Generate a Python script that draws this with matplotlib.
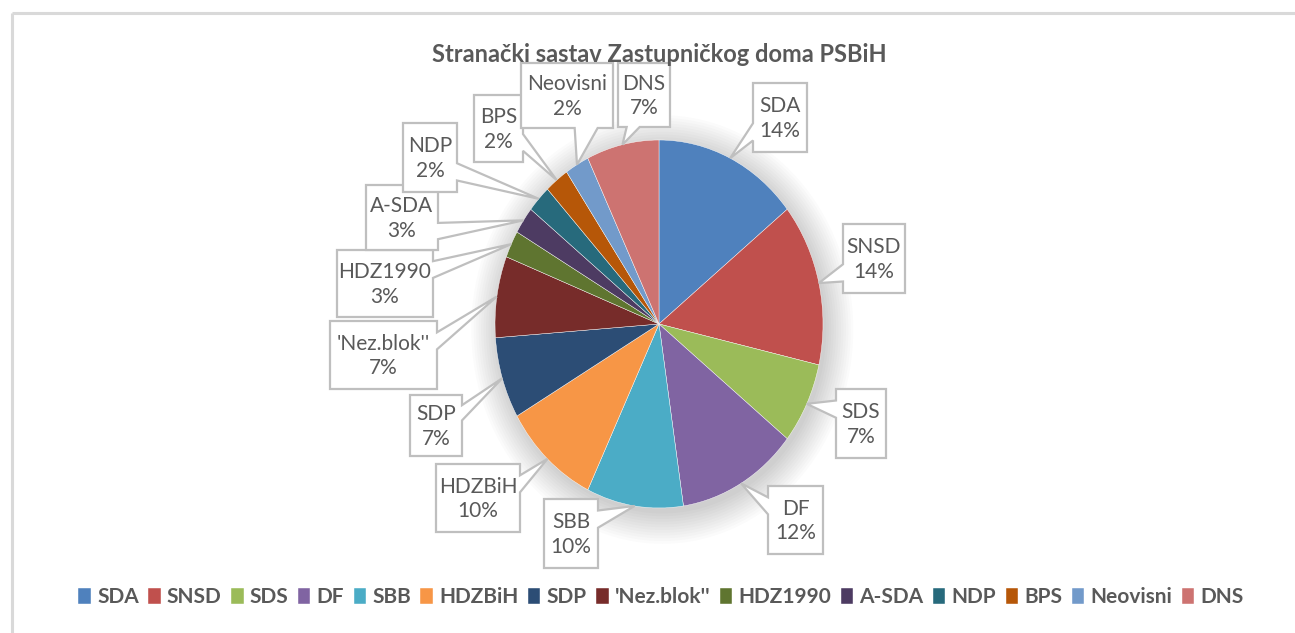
import numpy as np
import matplotlib.pyplot as plt
from matplotlib.patches import Polygon, Ellipse

plt.rcParams['font.family'] = ['Lato', 'DejaVu Sans']

# data
parties = ['SDA', 'SNSD', 'SDS', 'DF', 'SBB', 'HDZBiH', 'SDP', "'Nez.blok''",
           'HDZ1990', 'A-SDA', 'NDP', 'BPS', 'Neovisni', 'DNS']
seats = [6, 6, 3, 5, 4, 4, 3, 3, 1, 1, 1, 1, 1, 3]
pct_labels = ['14%', '14%', '7%', '12%', '10%', '10%', '7%', '7%',
              '3%', '3%', '2%', '2%', '2%', '7%']
colors = ['#4F81BD', '#C0504D', '#9BBB59', '#8064A2', '#4BACC6', '#F79646', '#2C4D75',
          '#772C2A', '#5F7530', '#4D3B62', '#276A7C', '#B65708', '#729ACA', '#CD7371']
title = 'Stranački sastav Zastupničkog doma PSBiH'

# callout boxes, pixel layout (left, top, right, bottom)
boxes = [(753, 83, 807, 152), (843, 224, 905, 293), (836, 389, 886, 458),
         (768, 486, 823, 554), (544, 499, 598, 568), (436, 464, 520, 532),
         (410, 395, 462, 456), (330, 321, 437, 389), (337, 250, 433, 317),
         (366, 185, 438, 250), (403, 123, 457, 192), (474, 95, 523, 162),
         (521, 63, 613, 128), (618, 63, 670, 127)]

W, H = 1295, 633
GREY = '#595959'
EDGE = '#BFBFBF'


def callout(x0, y0, x1, y1, tx, ty):
    # excel-like wedgeRectCallout outline, y axis pointing down
    w, h = x1 - x0, y1 - y0
    dxp, dyp = tx - (x0 + x1) / 2, ty - (y0 + y1) / 2
    xb1 = x0 + w * (7 if dxp > 0 else 2) / 12
    xb2 = x0 + w * (10 if dxp > 0 else 5) / 12
    yb1 = y0 + h * (7 if dyp > 0 else 2) / 12
    yb2 = y0 + h * (10 if dyp > 0 else 5) / 12
    if abs(dyp * w) > abs(dxp * h):
        if dyp < 0:
            pts = [(x0, y0), (xb1, y0), (tx, ty), (xb2, y0), (x1, y0), (x1, y1), (x0, y1)]
        else:
            pts = [(x0, y0), (x1, y0), (x1, y1), (xb2, y1), (tx, ty), (xb1, y1), (x0, y1)]
    else:
        if dxp < 0:
            pts = [(x0, y0), (x1, y0), (x1, y1), (x0, y1), (x0, yb2), (tx, ty), (x0, yb1)]
        else:
            pts = [(x0, y0), (x1, y0), (x1, yb1), (tx, ty), (x1, yb2), (x1, y1), (x0, y1)]
    return pts


fig = plt.figure(figsize=(W / 100, H / 100), dpi=100)

ax = fig.add_axes([495 / W, (H - 508) / H, 328 / W, 368 / H])
# soft shadow behind the pie
for k in range(12):
    ax.add_patch(Ellipse((0.02, -0.03), 2.0 + 0.03 * k, 2.0 + 0.03 * k,
                         color='#000000', alpha=0.016, lw=0, zorder=0, clip_on=False))
wedges, _ = ax.pie(seats, colors=colors, startangle=90, counterclock=False,
                   wedgeprops=dict(linewidth=0.3, edgecolor='white'))
ax.set_aspect('auto')
ax.set_xlim(-1, 1)
ax.set_ylim(-1, 1)
ax.axis('off')

ov = fig.add_axes([0, 0, 1, 1], zorder=5)
ov.set_xlim(0, W)
ov.set_ylim(H, 0)
ov.axis('off')

# chart frame (top and left edges visible)
ov.plot([12, W], [13, 13], color='#D9D9D9', lw=2.2, solid_capstyle='butt')
ov.plot([12, 12], [13, H], color='#D9D9D9', lw=2.2, solid_capstyle='butt')

to_ov = ov.transData.inverted()
for i, wdg in enumerate(wedges):
    mid = np.deg2rad((wdg.theta1 + wdg.theta2) / 2)
    tx, ty = to_ov.transform(ax.transData.transform((np.cos(mid), np.sin(mid))))
    x0, y0, x1, y1 = boxes[i]
    ov.add_patch(Polygon(callout(x0, y0, x1, y1, tx, ty), closed=True, facecolor='white',
                         edgecolor=EDGE, lw=1.6, zorder=2 + i * 0.01))
    ov.text((x0 + x1) / 2, (y0 + y1) / 2 + 1, parties[i] + '\n' + pct_labels[i],
            ha='center', va='center', fontsize=15, color=GREY, linespacing=1.3,
            zorder=2 + i * 0.01 + 0.005)

ov.text(659, 54, title, ha='center', va='center', fontsize=17, fontweight='bold',
        color=GREY, zorder=10)

fig.legend(wedges, parties, loc='center', bbox_to_anchor=(661 / W, 1 - 597 / H), ncol=14,
           frameon=False, handlelength=0.6, handleheight=0.8, handletextpad=0.3,
           columnspacing=0.45, prop=dict(size=15, weight='bold'), labelcolor=GREY)

fig.savefig('out.png', dpi=100, facecolor='white')
